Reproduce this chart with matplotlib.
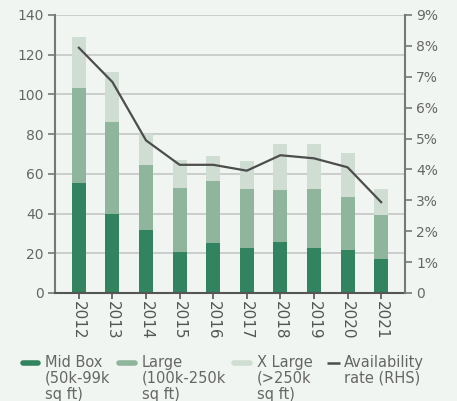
import numpy as np
import matplotlib
matplotlib.use("Agg")
import matplotlib.pyplot as plt
from matplotlib.lines import Line2D

# --- data
years = ["2012", "2013", "2014", "2015", "2016", "2017", "2018", "2019", "2020", "2021"]
mid_box = [55.5, 39.8, 31.7, 20.6, 25.2, 22.7, 25.7, 22.7, 21.7, 17.1]
large_top = [103.2, 86.1, 64.6, 53.0, 56.4, 52.4, 51.9, 52.4, 48.3, 39.3]
total_top = [128.9, 111.3, 79.9, 67.0, 69.0, 66.5, 75.0, 75.0, 70.5, 52.4]
availability = [7.94, 6.83, 4.94, 4.15, 4.15, 3.96, 4.46, 4.36, 4.07, 2.94]
legend_labels = ["Mid Box\n(50k-99k\nsq ft)", "Large\n(100k-250k\nsq ft)",
                 "X Large\n(>250k\nsq ft)", "Availability\nrate (RHS)"]

large = [t - m for t, m in zip(large_top, mid_box)]
xlarge = [t - l for t, l in zip(total_top, large_top)]

bg = "#f1f5f1"
c_mid = "#31845f"
c_large = "#8fb59c"
c_xl = "#cfddd2"
c_line = "#4d4d4d"
txt = "#666666"

plt.rcParams["font.family"] = ["DejaVu Sans"]

W, H = 457, 401
fig = plt.figure(figsize=(W / 100, H / 100), dpi=100, facecolor=bg)
ax = fig.add_axes([55 / W, 1 - 293 / H, 350 / W, 278 / H])
ax.set_facecolor(bg)
x = np.arange(len(years))
w = 0.42
ax.bar(x, mid_box, w, color=c_mid, zorder=2)
ax.bar(x, large, w, bottom=mid_box, color=c_large, zorder=2)
ax.bar(x, xlarge, w, bottom=large_top, color=c_xl, zorder=2)
ax.set_ylim(0, 140)
ax.set_xlim(-0.71, 9.71)
ax.set_yticks(range(0, 141, 20))
ax.yaxis.grid(True, color="#c4c7c5", lw=1.2, zorder=0)
ax.set_axisbelow(True)
ax.set_xticks(x)
ax.set_xticklabels(years, rotation=270)
ax.tick_params(axis="y", colors="#777777", labelcolor=txt, labelsize=10, length=5, width=1.2, pad=3)
ax.tick_params(axis="x", colors="#555555", labelcolor="#555555", labelsize=11, length=4, width=1.2, pad=2)
for s in ["top", "right"]:
    ax.spines[s].set_visible(False)
ax.spines["left"].set_color("#777777")
ax.spines["left"].set_linewidth(1.5)
ax.spines["bottom"].set_color("#555555")
ax.spines["bottom"].set_linewidth(1.5)

ax2 = ax.twinx()
ax2.plot(x, availability, color=c_line, lw=1.6, zorder=3)
ax2.set_ylim(0, 9)
ax2.set_yticks(range(0, 10))
ax2.set_yticklabels(["0"] + [f"{i}%" for i in range(1, 10)])
ax2.tick_params(axis="y", colors="#777777", labelcolor=txt, labelsize=10, length=5, width=1.2, pad=3)
for s in ["top", "left", "bottom"]:
    ax2.spines[s].set_visible(False)
ax2.spines["right"].set_color("#777777")
ax2.spines["right"].set_linewidth(1.5)

# legend drawn by hand so the marker sits on the first text line
leg_x = [(23, 38, 45), (119, 135, 142), (234, 250, 257), (327, 340, 344)]
leg_c = [c_mid, c_large, c_xl, c_line]
leg_lw = [4, 4, 4, 1.8]
y_first = 363
for (x0, x1, xt), c, lw, lab in zip(leg_x, leg_c, leg_lw, legend_labels):
    fig.add_artist(Line2D([x0 / W, x1 / W], [1 - y_first / H] * 2, color=c, lw=lw,
                          solid_capstyle="round" if lw > 2 else "butt",
                          transform=fig.transFigure))
    fig.text(xt / W, 1 - (y_first - 8) / H, lab, ha="left", va="top", fontsize=10.5,
             color=txt, linespacing=1.08)

fig.savefig("out.png", dpi=100, facecolor=bg)
